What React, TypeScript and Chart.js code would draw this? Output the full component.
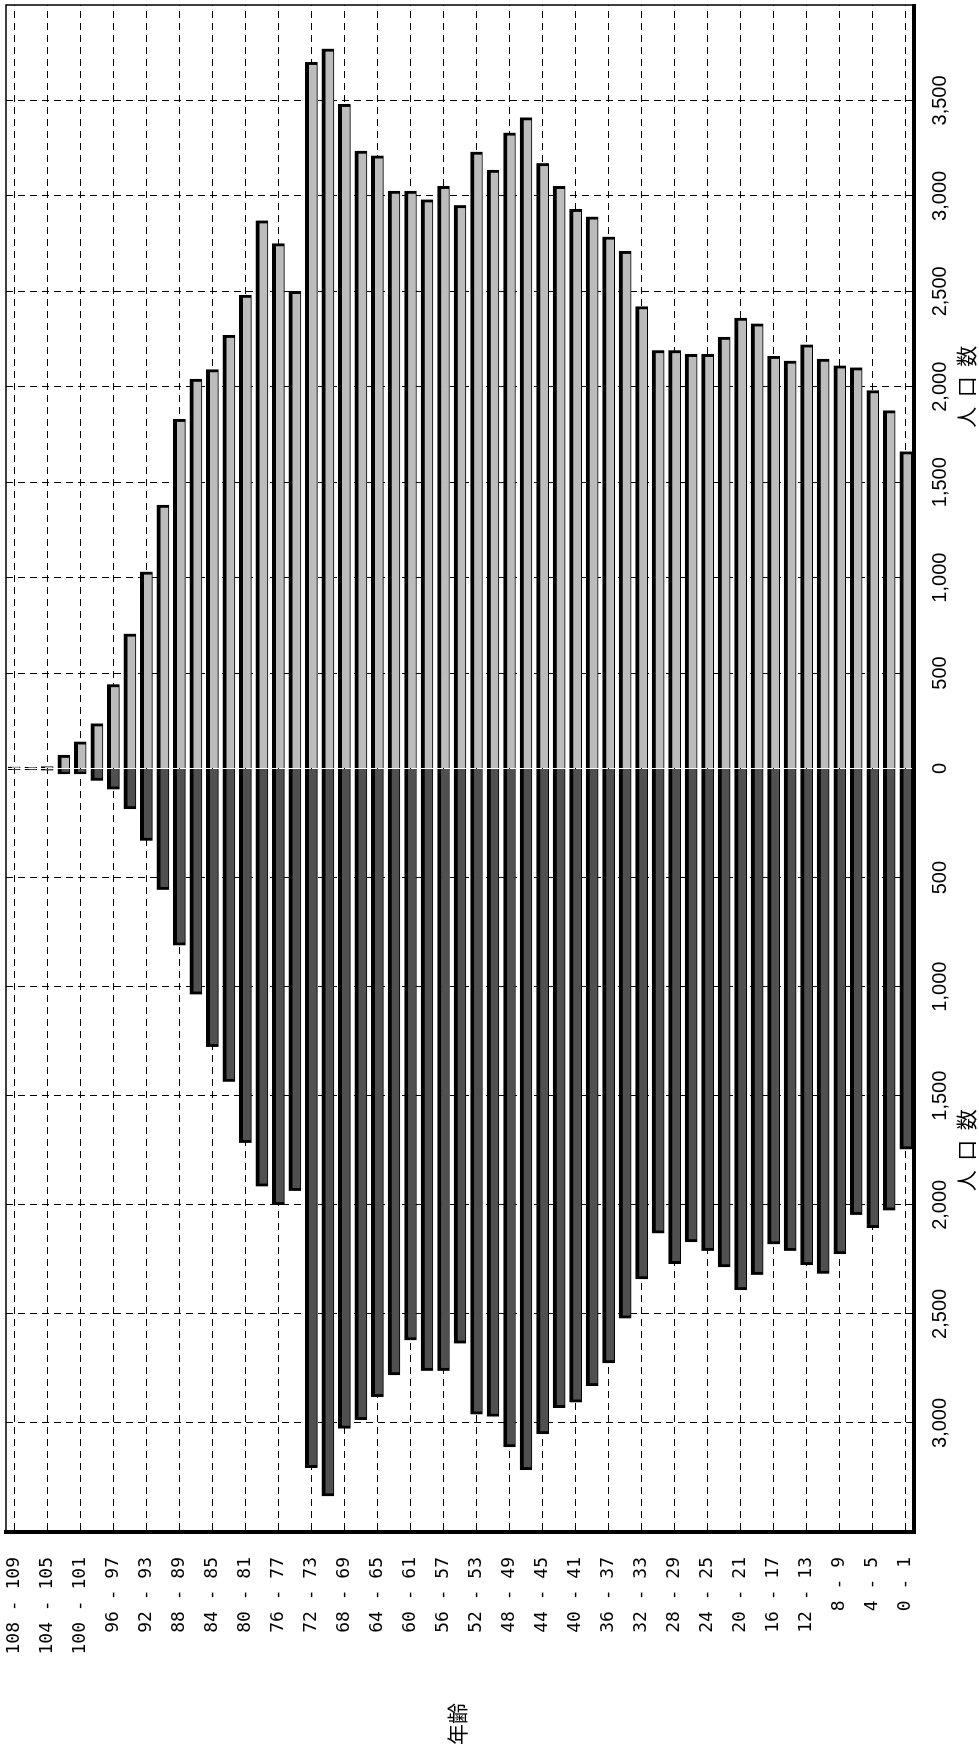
import { useEffect, useRef } from 'react';
import { Chart, registerables } from 'chart.js';

Chart.register(...registerables);

// Age groups, top (oldest) to bottom (youngest) in the unrotated chart
const AGE_GROUPS = [
  '108 - 109', '106 - 107', '104 - 105', '102 - 103', '100 - 101',
  '98 - 99', '96 - 97', '94 - 95', '92 - 93', '90 - 91',
  '88 - 89', '86 - 87', '84 - 85', '82 - 83', '80 - 81',
  '78 - 79', '76 - 77', '74 - 75', '72 - 73', '70 - 71',
  '68 - 69', '66 - 67', '64 - 65', '62 - 63', '60 - 61',
  '58 - 59', '56 - 57', '54 - 55', '52 - 53', '50 - 51',
  '48 - 49', '46 - 47', '44 - 45', '42 - 43', '40 - 41',
  '38 - 39', '36 - 37', '34 - 35', '32 - 33', '30 - 31',
  '28 - 29', '26 - 27', '24 - 25', '22 - 23', '20 - 21',
  '18 - 19', '16 - 17', '14 - 15', '12 - 13', '10 - 11',
  '8 - 9', '6 - 7', '4 - 5', '2 - 3', '0 - 1',
];

// Dark bars (left half of the pyramid)
const MALE = [
  6, 6, 8, 25, 25,
  55, 95, 185, 330, 555,
  810, 1035, 1275, 1435, 1715,
  1915, 2000, 1935, 3205, 3335,
  3025, 2985, 2880, 2780, 2620,
  2760, 2760, 2635, 2960, 2970,
  3110, 3215, 3050, 2930, 2905,
  2830, 2725, 2520, 2340, 2130,
  2270, 2170, 2210, 2285, 2390,
  2320, 2180, 2210, 2275, 2315,
  2225, 2045, 2105, 2025, 1745,
];

// Light bars (right half of the pyramid)
const FEMALE = [
  8, 6, 10, 70, 140,
  235, 440, 705, 1030, 1380,
  1830, 2040, 2090, 2270, 2480,
  2870, 2750, 2500, 3700, 3770,
  3480, 3235, 3210, 3025, 3025,
  2980, 3050, 2950, 3230, 3135,
  3330, 3410, 3170, 3050, 2930,
  2890, 2785, 2710, 2420, 2190,
  2190, 2170, 2170, 2260, 2360,
  2330, 2160, 2135, 2220, 2145,
  2110, 2100, 1980, 1875, 1660,
];

const MALE_MAX = 3500;
const FEMALE_MAX = 4000;
const STEP = 500;

const AXIS_TITLE = '人  口  数';
const AGE_TITLE = '年齢';

const W = 1755;
const H = 979;

const framePlugin = {
  id: 'frame',
  afterDraw(chart: any) {
    const { ctx, chartArea: a } = chart;
    ctx.save();
    ctx.strokeStyle = '#000';
    ctx.lineWidth = 1.5;
    ctx.beginPath();
    ctx.moveTo(a.left, a.top);
    ctx.lineTo(a.right, a.top);
    ctx.lineTo(a.right, a.bottom);
    ctx.stroke();
    ctx.restore();
  },
};

const ageTitlePlugin = {
  id: 'ageTitle',
  afterDraw(chart: any) {
    const { ctx } = chart;
    ctx.save();
    ctx.fillStyle = '#000';
    ctx.font = '21px "Noto Sans CJK JP"';
    ctx.textAlign = 'center';
    ctx.textBaseline = 'middle';
    ctx.fillText(AGE_TITLE, 31, 457);
    ctx.restore();
  },
};

const valueFont = { family: '"Liberation Sans", Arial, sans-serif', size: 20 };
const titleFont = { family: '"Noto Sans CJK JP", sans-serif', size: 21 };

function valueAxis(max: number, reverse: boolean, hideZero: boolean) {
  return {
    type: 'linear',
    position: 'bottom',
    stack: 'value',
    stackWeight: 1,
    reverse,
    min: 0,
    max,
    grid: {
      color: (c: any) =>
        c.tick && (c.tick.value === 0 || c.tick.value === max) ? 'rgba(0,0,0,0)' : '#000',
      lineWidth: 1,
      drawTicks: false,
    },
    border: { display: true, color: '#000', width: 4, dash: [7, 5] },
    ticks: {
      stepSize: STEP,
      padding: 14,
      color: '#000',
      font: valueFont,
      maxRotation: 0,
      minRotation: 0,
      autoSkip: false,
      callback: (v: number) => {
        if (v === max) return '';
        if (v === 0 && hideZero) return '';
        return v.toLocaleString('en-US');
      },
    },
    title: {
      display: true,
      text: AXIS_TITLE,
      color: '#000',
      font: titleFont,
      padding: { top: 0, bottom: 0 },
    },
    afterFit: (s: any) => {
      s.height = 65;
      s.paddingLeft = 0;
      s.paddingRight = 0;
    },
  };
}

export default function App() {
  const ref = useRef<HTMLCanvasElement>(null);

  useEffect(() => {
    document.body.style.margin = '0';
    const barBorder = { top: 4, bottom: 1, left: 3, right: 3 };
    const chart = new Chart(ref.current as HTMLCanvasElement, {
      type: 'bar',
      data: {
        labels: AGE_GROUPS,
        datasets: [
          {
            label: '男',
            data: MALE,
            xAxisID: 'xm',
            yAxisID: 'y',
            backgroundColor: '#505050',
            borderColor: '#000',
            borderWidth: barBorder,
            borderSkipped: 'start',
            barThickness: 12,
            grouped: false,
          },
          {
            label: '女',
            data: FEMALE,
            xAxisID: 'xf',
            yAxisID: 'y',
            backgroundColor: '#bcbcbc',
            borderColor: '#000',
            borderWidth: barBorder,
            borderSkipped: 'start',
            barThickness: 12,
            grouped: false,
          },
        ],
      } as any,
      options: {
        indexAxis: 'y',
        responsive: false,
        animation: false,
        devicePixelRatio: 1,
        layout: { padding: { top: 6, right: 5, left: 0, bottom: 0 } },
        plugins: {
          legend: { display: false },
          tooltip: { enabled: false },
        },
        scales: {
          y: {
            type: 'category',
            position: 'left',
            offset: true,
            grid: {
              offset: false,
              color: (c: any) => (c.index % 2 === 0 ? '#000' : 'rgba(0,0,0,0)'),
              lineWidth: 1,
              drawTicks: false,
            },
            border: { display: true, color: '#000', width: 4, dash: [7, 5] },
            ticks: {
              autoSkip: false,
              padding: 25,
              color: '#000',
              font: { family: '"DejaVu Sans Mono", monospace', size: 18 },
              callback: (_v: any, i: number) => (i % 2 === 0 ? AGE_GROUPS[i] : ''),
            },
            afterFit: (s: any) => {
              s.width = 223;
              s.paddingTop = 0;
              s.paddingBottom = 0;
            },
          },
          xm: valueAxis(MALE_MAX, true, true),
          xf: valueAxis(FEMALE_MAX, false, false),
        },
      } as any,
      plugins: [framePlugin, ageTitlePlugin],
    });
    return () => chart.destroy();
  }, []);

  return (
    <div
      style={{
        position: 'absolute',
        left: 0,
        top: 0,
        width: H,
        height: W,
        overflow: 'hidden',
        background: '#fff',
      }}
    >
      <div
        style={{
          position: 'absolute',
          left: 0,
          top: 0,
          width: W,
          height: H,
          transformOrigin: '0 0',
          transform: `translate(0px, ${W}px) rotate(-90deg)`,
        }}
      >
        <canvas ref={ref} width={W} height={H} style={{ width: W, height: H, display: 'block' }} />
      </div>
    </div>
  );
}
